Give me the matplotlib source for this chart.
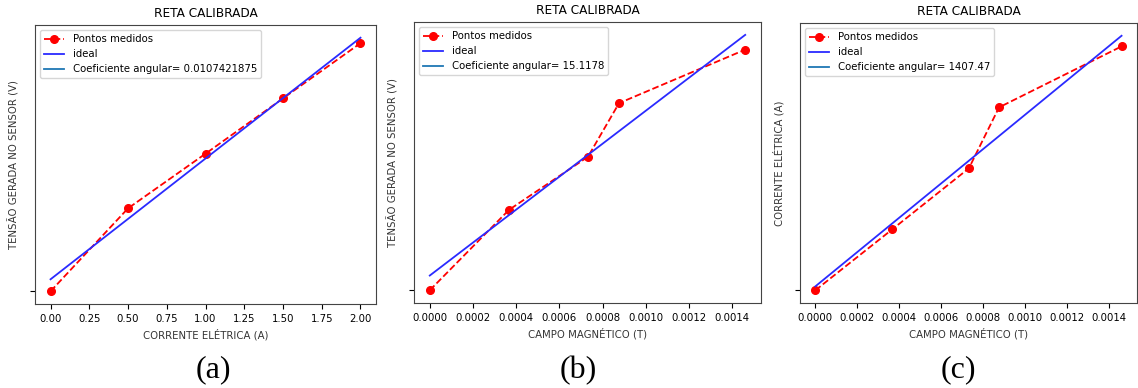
import matplotlib.pyplot as plt
import numpy as np

# measured values
corrente = [0.0, 0.5, 1.0, 1.5, 2.0]  # A
tensao = [0.0, 0.00738, 0.01224, 0.01716, 0.02207]  # V
campo = [0.0, 0.000367, 0.000732, 0.000876, 0.00146]  # T

# "ideal" lines: slope from the legend, intercept
coef_a, inter_a = 0.0107421875, 0.00107
coef_b, inter_b = 15.1178, 0.00135
coef_c, inter_c = 1407.47, 0.032
labels_coef = ["0.0107421875", "15.1178", "1407.47"]

plt.rcParams["font.size"] = 7.3
plt.rcParams["lines.linewidth"] = 1.3

fig = plt.figure(figsize=(11.38, 3.88), dpi=100)
axes = [
    fig.add_axes([0.0308, 0.2165, 0.2996, 0.719]),
    fig.add_axes([0.3638, 0.219, 0.3049, 0.724]),
    fig.add_axes([0.7030, 0.219, 0.2960, 0.7216]),
]

panels = [
    (corrente, tensao, coef_a, inter_a, "CORRENTE ELÉTRICA (A)", "TENSÃO GERADA NO SENSOR (V)"),
    (campo, tensao, coef_b, inter_b, "CAMPO MAGNÉTICO (T)", "TENSÃO GERADA NO SENSOR (V)"),
    (campo, corrente, coef_c, inter_c, "CAMPO MAGNÉTICO (T)", "CORRENTE ELÉTRICA (A)"),
]

for ax, (x, y, coef, inter, xlab, ylab), lab in zip(axes, panels, labels_coef):
    x = np.array(x)
    ax.plot(x, y, "r--o", markersize=5.5, label="Pontos medidos")
    ax.plot(x, coef * x + inter, color="#2a2aff", label="ideal")
    ax.plot([], [], color="C0", label=f"Coeficiente angular= {lab}")
    ax.set_title("RETA CALIBRADA")
    ax.set_xlabel(xlab, color="#333333")
    ax.set_ylabel(ylab, color="#333333")
    # only a single unlabeled tick on the y axis
    ax.set_yticks([y[0]])
    ax.set_yticklabels([""])
    ax.legend(loc="upper left")
    for sp in ax.spines.values():
        sp.set_color("#444444")

for xc, txt in zip([213 / 1138, 578 / 1138, 958 / 1138], ["(a)", "(b)", "(c)"]):
    fig.text(xc, 0.046, txt, ha="center", va="center", fontsize=23, family="Liberation Serif")

fig.savefig("out.png", dpi=100)
